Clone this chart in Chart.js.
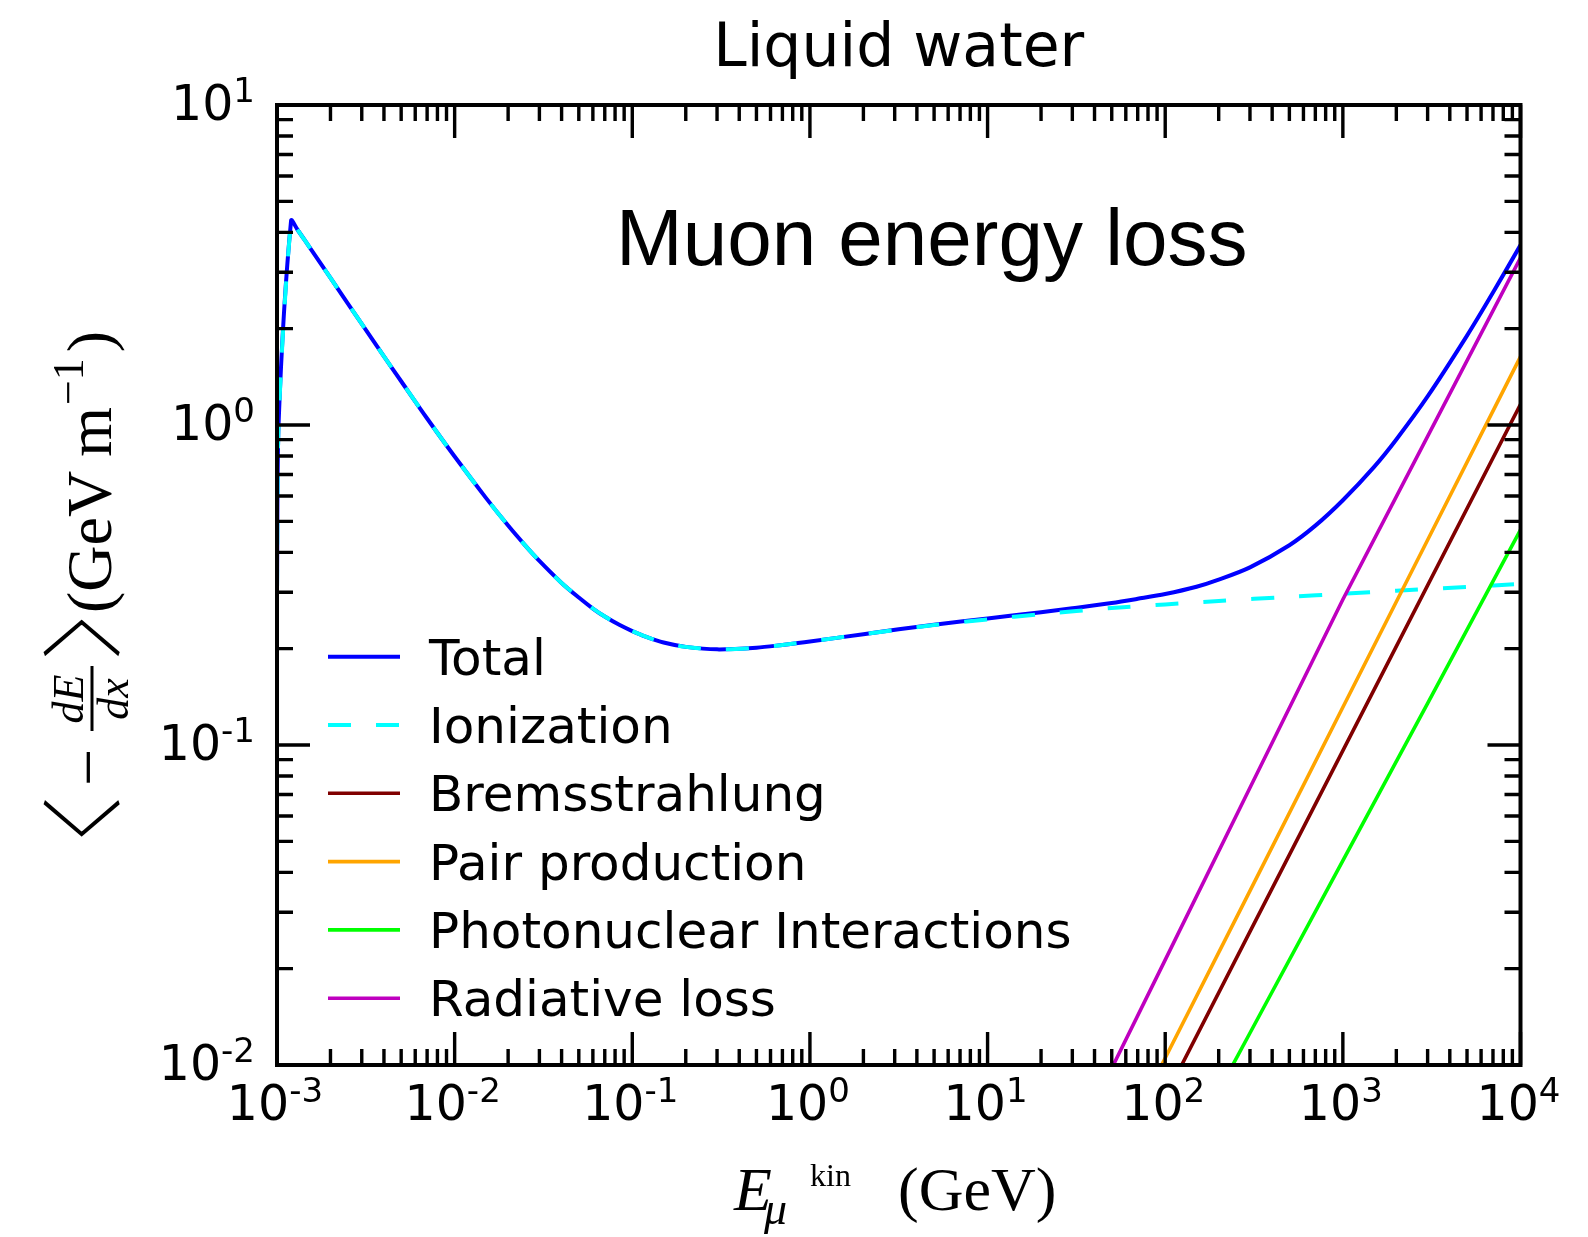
<!DOCTYPE html>
<html>
<head>
<meta charset="utf-8">
<script src="https://cdn.jsdelivr.net/npm/chart.js@4.4.1/dist/chart.umd.min.js"></script>
<style>
  html, body { margin: 0; padding: 0; background: #ffffff; }
  canvas { display: block; }
</style>
</head>
<body>
<canvas id="chart" width="1588" height="1237"></canvas>
<script>
// Mean energy loss of muons in liquid water, <-dE/dx> in GeV/m versus kinetic energy in GeV

// Ionization
const ionEnergy = [0.001, 0.00102, 0.0012, 0.0013, 0.0015, 0.002, 0.0025, 0.003, 0.004, 0.005,
                   0.007, 0.01, 0.015, 0.02, 0.025, 0.03, 0.04, 0.05, 0.06, 0.07,
                   0.085, 0.1, 0.12, 0.15, 0.2, 0.3, 0.5, 0.7, 1, 2,
                   5, 10, 20, 50, 100, 200, 500, 1000, 2000, 5000, 10000];
const ionLoss = [0.30, 1.0, 4.35, 4.09, 3.64, 2.88, 2.40, 2.07, 1.638, 1.37,
                 1.048, 0.797, 0.592, 0.485, 0.420, 0.376, 0.321, 0.289, 0.267, 0.252,
                 0.237, 0.227, 0.2177, 0.209, 0.2026, 0.199, 0.2014, 0.2055, 0.2105, 0.222,
                 0.237, 0.247, 0.2565, 0.268, 0.275, 0.282, 0.2905, 0.297, 0.3035, 0.312, 0.3185];

// Total (ionization + radiative)
const totalEnergy = [0.001, 0.00102, 0.0012, 0.0013, 0.0015, 0.002, 0.0025, 0.003, 0.004, 0.005,
                     0.007, 0.01, 0.015, 0.02, 0.025, 0.03, 0.04, 0.05, 0.06, 0.07,
                     0.085, 0.1, 0.12, 0.15, 0.2, 0.3, 0.5, 0.7, 1, 2,
                     5, 10, 20, 30, 50, 70, 100, 150, 200, 300,
                     500, 700, 1000, 1500, 2000, 3000, 5000, 7000, 10000];
const totalLoss = [0.30, 1.0, 4.35, 4.09, 3.64, 2.88, 2.40, 2.07, 1.638, 1.37,
                   1.048, 0.797, 0.592, 0.485, 0.420, 0.376, 0.321, 0.289, 0.267, 0.252,
                   0.237, 0.227, 0.2177, 0.209, 0.2026, 0.199, 0.2014, 0.2055, 0.2105, 0.222,
                   0.2377, 0.2486, 0.260, 0.2675, 0.2778, 0.2863, 0.2963, 0.3122, 0.3286, 0.359,
                   0.4211, 0.4847, 0.582, 0.740, 0.9012, 1.228, 1.902, 2.593, 3.6485];

// Radiative processes
const radEnergy = [30, 100, 300, 1000, 3000, 10000];
const bremsLoss = [0.00215, 0.00793, 0.0261, 0.096, 0.3155, 1.16];
const pairLoss = [0.00281, 0.01052, 0.035, 0.1312, 0.437, 1.635];
const photoLoss = [0.00118, 0.00406, 0.01259, 0.0435, 0.135, 0.47];
const radiativeLoss = [0.0055, 0.0213, 0.0735, 0.285, 0.921, 3.33];

const seriesNames = ['Total', 'Ionization', 'Bremsstrahlung', 'Pair production',
                     'Photonuclear Interactions', 'Radiative loss'];
const seriesColors = ['#0000ff', '#00ffff', '#800000', '#ffa500', '#00ff00', '#bf00bf'];

// Decade exponents for the tick labels
const xExponents = [-3, -2, -1, 0, 1, 2, 3, 4];
const yExponents = [-2, -1, 0, 1];

const titleText = 'Liquid water';
const noteText = 'Muon energy loss';

function pts(xs, ys) { return xs.map((v, i) => ({ x: v, y: ys[i] })); }

const seriesData = [
  pts(totalEnergy, totalLoss),
  pts(ionEnergy, ionLoss),
  pts(radEnergy, bremsLoss),
  pts(radEnergy, pairLoss),
  pts(radEnergy, photoLoss),
  pts(radEnergy, radiativeLoss)
];

const datasets = seriesData.map((d, i) => ({
  label: seriesNames[i],
  data: d,
  borderColor: seriesColors[i],
  backgroundColor: seriesColors[i],
  borderWidth: i < 2 ? 4 : 3.6,
  borderDash: i === 1 ? [23, 25] : [],
  borderCapStyle: 'butt',
  fill: false,
  pointRadius: 0,
  tension: i < 2 ? 0.3 : 0,
  clip: 0,
  order: seriesNames.length - i
}));

function drawPow(ctx, exp, x, y, align) {
  ctx.font = '49px "DejaVu Sans"';
  const wb = ctx.measureText('10').width;
  ctx.font = '34px "DejaVu Sans"';
  const we = ctx.measureText(exp).width;
  const w = wb + we;
  const x0 = align === 'center' ? x - w / 2 : x - w;
  ctx.textAlign = 'left';
  ctx.textBaseline = 'alphabetic';
  ctx.font = '49px "DejaVu Sans"';
  ctx.fillText('10', x0, y);
  ctx.font = '34px "DejaVu Sans"';
  ctx.fillText(exp, x0 + wb, y - 18);
}

// Draw a delimiter glyph so that its ink fills the box [x0, x0+w] x [yTop, yTop+h],
// then thin its strokes with a white outline
function fitGlyph(ctx, ch, font, x0, yTop, w, h, thin) {
  ctx.save();
  ctx.font = font;
  ctx.textAlign = 'left';
  ctx.textBaseline = 'alphabetic';
  const m = ctx.measureText(ch);
  const iw = m.actualBoundingBoxLeft + m.actualBoundingBoxRight;
  const ih = m.actualBoundingBoxAscent + m.actualBoundingBoxDescent;
  ctx.translate(x0, yTop);
  ctx.scale(w / iw, h / ih);
  ctx.fillStyle = '#000';
  ctx.fillText(ch, m.actualBoundingBoxLeft, m.actualBoundingBoxAscent);
  ctx.strokeStyle = '#fff';
  ctx.lineJoin = 'round';
  ctx.lineWidth = thin;
  ctx.strokeText(ch, m.actualBoundingBoxLeft, m.actualBoundingBoxAscent);
  ctx.restore();
}

const axesDecor = {
  id: 'axesDecor',
  afterDatasetsDraw(chart) {
    const ctx = chart.ctx;
    const a = chart.chartArea;
    const xs = chart.scales.x, ys = chart.scales.y;
    ctx.save();
    ctx.strokeStyle = '#000';
    ctx.fillStyle = '#000';
    ctx.lineCap = 'butt';

    // tick marks on all four sides, pointing inward
    ctx.lineWidth = 3.4;
    const majorLen = 33, minorLen = 16;
    ctx.beginPath();
    for (let k = 0; k < xExponents.length; k++) {
      for (let m = 1; m <= 9; m++) {
        if (k === xExponents.length - 1 && m > 1) break;
        const px = xs.getPixelForValue(m * Math.pow(10, xExponents[k]));
        const len = m === 1 ? majorLen : minorLen;
        ctx.moveTo(px, a.bottom); ctx.lineTo(px, a.bottom - len);
        ctx.moveTo(px, a.top); ctx.lineTo(px, a.top + len);
      }
    }
    for (let k = 0; k < yExponents.length; k++) {
      for (let m = 1; m <= 9; m++) {
        if (k === yExponents.length - 1 && m > 1) break;
        const py = ys.getPixelForValue(m * Math.pow(10, yExponents[k]));
        const len = m === 1 ? majorLen : minorLen;
        ctx.moveTo(a.left, py); ctx.lineTo(a.left + len, py);
        ctx.moveTo(a.right, py); ctx.lineTo(a.right - len, py);
      }
    }
    ctx.stroke();

    // frame
    ctx.lineWidth = 4;
    ctx.strokeRect(a.left, a.top, a.right - a.left, a.bottom - a.top);

    // tick labels
    xExponents.forEach(e => {
      const px = xs.getPixelForValue(Math.pow(10, e));
      drawPow(ctx, e < 0 ? '-' + (-e) : String(e), px - 2, a.bottom + 55, 'center');
    });
    yExponents.forEach(e => {
      const py = ys.getPixelForValue(Math.pow(10, e));
      drawPow(ctx, e < 0 ? '-' + (-e) : String(e), a.left - 22, py + 15, 'right');
    });

    // title
    ctx.textAlign = 'center';
    ctx.textBaseline = 'alphabetic';
    ctx.font = '60px "DejaVu Sans"';
    ctx.fillText(titleText, (a.left + a.right) / 2, a.top - 39);

    // annotation
    ctx.textAlign = 'left';
    ctx.font = '80px "Liberation Sans"';
    ctx.fillText(noteText, 616, a.top + 160);

    // legend
    const lx0 = a.left + 51, lx1 = a.left + 123, tx = a.left + 152;
    chart.data.datasets.forEach((ds, i) => {
      const cy = a.top + 551.7 + i * 68.3;
      ctx.save();
      ctx.strokeStyle = ds.borderColor;
      ctx.lineWidth = ds.borderWidth;
      ctx.setLineDash(ds.borderDash || []);
      ctx.beginPath();
      ctx.moveTo(lx0, cy); ctx.lineTo(lx1, cy);
      ctx.stroke();
      ctx.restore();
      ctx.font = '50px "DejaVu Sans"';
      ctx.fillStyle = '#000';
      ctx.textAlign = 'left';
      ctx.fillText(ds.label, tx, cy + 18);
    });

    // x axis label: E_mu^kin (GeV)
    const serif = '"Liberation Serif", "DejaVu Serif", serif';
    const xb = 1210;
    ctx.font = 'italic 62px ' + serif;
    ctx.fillText('E', 734, xb);
    ctx.font = 'italic 46px ' + serif;
    ctx.fillText('\u03bc', 764, xb + 14);
    ctx.font = '32px ' + serif;
    ctx.fillText('kin', 810, xb - 24);
    ctx.font = '62px ' + serif;
    ctx.fillText('(GeV)', 898, xb);

    // y axis label: < -dE/dx > (GeV m^-1), rotated
    ctx.save();
    ctx.translate(111, 841);
    ctx.rotate(-Math.PI / 2);
    ctx.textAlign = 'left';
    ctx.textBaseline = 'alphabetic';
    fitGlyph(ctx, '\u3008', '84px "Noto Sans CJK JP"', 2, -70, 42, 80, 2.4);
    ctx.fillStyle = '#000';
    ctx.font = '66px ' + serif;
    ctx.fillText('\u2212', 55, -1);
    ctx.textAlign = 'center';
    ctx.font = 'italic 44px ' + serif;
    ctx.fillText('dE', 142, -28);
    ctx.fillText('dx', 142, 17);
    ctx.lineWidth = 3;
    ctx.strokeStyle = '#000';
    ctx.beginPath(); ctx.moveTo(110, -19); ctx.lineTo(175, -19); ctx.stroke();
    ctx.textAlign = 'left';
    fitGlyph(ctx, '\u3009', '84px "Noto Sans CJK JP"', 182, -70, 42, 80, 2.4);
    ctx.fillStyle = '#000';
    ctx.font = '64px ' + serif;
    let cx = 228;
    ctx.fillText('(GeV', cx, 0);
    cx += ctx.measureText('(GeV').width + 14;
    ctx.fillText('m', cx, 0);
    cx += ctx.measureText('m').width + 2;
    ctx.font = '44px ' + serif;
    ctx.fillText('\u22121', cx, -28);
    cx += ctx.measureText('\u22121').width + 6;
    ctx.font = '64px ' + serif;
    ctx.fillText(')', cx, 0);
    ctx.restore();

    ctx.restore();
  }
};

new Chart(document.getElementById('chart').getContext('2d'), {
  type: 'line',
  data: { datasets },
  options: {
    responsive: false,
    animation: false,
    devicePixelRatio: 1,
    layout: { padding: { left: 277, right: 67.5, top: 105, bottom: 172 } },
    plugins: { legend: { display: false }, tooltip: { enabled: false }, title: { display: false } },
    scales: {
      x: { type: 'logarithmic', min: 1e-3, max: 1e4, display: false },
      y: { type: 'logarithmic', min: 1e-2, max: 10, display: false }
    }
  },
  plugins: [axesDecor]
});
</script>
</body>
</html>
